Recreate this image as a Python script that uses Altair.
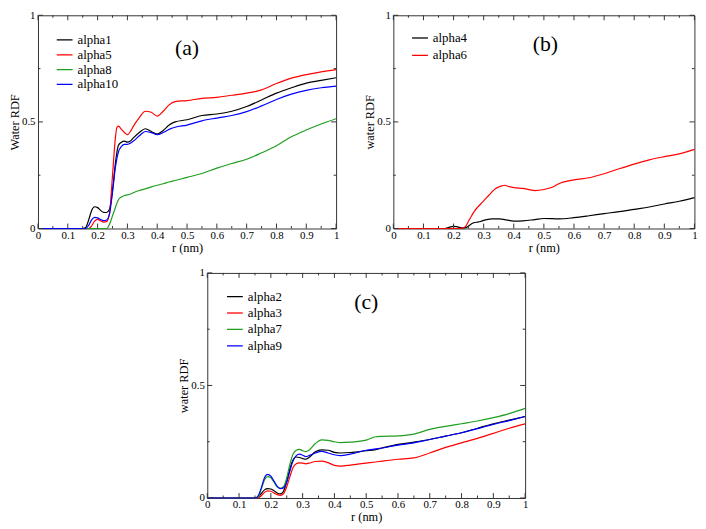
import altair as alt
import pandas as pd

# ---------------- data ----------------
# Panel (a)
r_a = [0.0, 0.15, 0.16, 0.17, 0.18, 0.19, 0.20, 0.21, 0.22, 0.23, 0.24, 0.25, 0.26, 0.265,
       0.27, 0.28, 0.29, 0.30, 0.31, 0.32, 0.34, 0.36, 0.38, 0.40, 0.42, 0.44, 0.46, 0.50,
       0.55, 0.60, 0.65, 0.70, 0.75, 0.80, 0.85, 0.90, 0.95, 1.0]
a_alpha1 = [0, 0, 0.005, 0.04, 0.085, 0.102, 0.098, 0.085, 0.076, 0.075, 0.09, 0.18, 0.31, 0.36,
            0.39, 0.405, 0.41, 0.405, 0.41, 0.425, 0.45, 0.468, 0.455, 0.443, 0.46, 0.485, 0.50, 0.51,
            0.53, 0.537, 0.55, 0.572, 0.603, 0.635, 0.66, 0.682, 0.695, 0.707]
a_alpha5 = [0, 0, 0, 0, 0.012, 0.035, 0.043, 0.036, 0.03, 0.032, 0.07, 0.25, 0.43, 0.475,
            0.48, 0.465, 0.45, 0.44, 0.455, 0.48, 0.52, 0.55, 0.545, 0.527, 0.55, 0.58, 0.595, 0.60,
            0.61, 0.615, 0.625, 0.635, 0.65, 0.68, 0.705, 0.722, 0.735, 0.745]
a_alpha8 = [0, 0, 0, 0, 0, 0, 0, 0, 0, 0, 0.02, 0.06, 0.10, 0.12,
            0.135, 0.148, 0.155, 0.158, 0.162, 0.168, 0.178, 0.186, 0.195, 0.203, 0.21, 0.218, 0.225, 0.24,
            0.258, 0.283, 0.305, 0.325, 0.355, 0.388, 0.43, 0.462, 0.49, 0.515]
a_alpha10 = [0, 0, 0, 0.015, 0.04, 0.052, 0.05, 0.042, 0.037, 0.04, 0.07, 0.17, 0.29, 0.33,
             0.36, 0.385, 0.395, 0.395, 0.40, 0.41, 0.435, 0.455, 0.45, 0.44, 0.45, 0.465, 0.475, 0.485,
             0.505, 0.518, 0.53, 0.548, 0.575, 0.605, 0.63, 0.648, 0.66, 0.668]

# Panel (b)
r_b = [0.0, 0.17, 0.18, 0.19, 0.20, 0.21, 0.22, 0.23, 0.24, 0.25, 0.26, 0.27, 0.28, 0.29,
       0.30, 0.31, 0.32, 0.33, 0.34, 0.35, 0.36, 0.37, 0.38, 0.40, 0.43, 0.47, 0.50, 0.53,
       0.55, 0.60, 0.65, 0.70, 0.75, 0.80, 0.85, 0.90, 0.95, 1.0]
b_alpha4 = [0, 0, 0.003, 0.008, 0.01, 0.009, 0.005, 0.002, 0.004, 0.012, 0.022, 0.028, 0.03, 0.033,
            0.038, 0.042, 0.044, 0.045, 0.045, 0.045, 0.044, 0.042, 0.039, 0.035, 0.036, 0.042, 0.047, 0.046,
            0.045, 0.051, 0.06, 0.07, 0.079, 0.09, 0.101, 0.115, 0.128, 0.145]
b_alpha6 = [0, 0, 0, 0, 0, 0, 0, 0.002, 0.01, 0.035, 0.06, 0.083, 0.10, 0.115,
            0.13, 0.145, 0.16, 0.175, 0.188, 0.195, 0.20, 0.203, 0.198, 0.192, 0.188, 0.178, 0.183, 0.195,
            0.21, 0.228, 0.238, 0.257, 0.28, 0.302, 0.322, 0.337, 0.35, 0.371]

# Panel (c)
r_c = [0.0, 0.15, 0.16, 0.17, 0.18, 0.19, 0.20, 0.21, 0.22, 0.23, 0.24, 0.25, 0.26, 0.27,
       0.28, 0.29, 0.30, 0.31, 0.32, 0.34, 0.36, 0.38, 0.40, 0.42, 0.45, 0.50, 0.53, 0.55,
       0.60, 0.65, 0.70, 0.75, 0.80, 0.85, 0.90, 0.95, 1.0]
c_alpha2 = [0, 0, 0.003, 0.02, 0.036, 0.042, 0.04, 0.032, 0.022, 0.018, 0.03, 0.075, 0.13, 0.17,
            0.182, 0.18, 0.175, 0.172, 0.18, 0.205, 0.214, 0.212, 0.203, 0.20, 0.202, 0.21, 0.215, 0.222,
            0.238, 0.248, 0.26, 0.275, 0.29, 0.31, 0.33, 0.346, 0.362]
c_alpha3 = [0, 0, 0, 0.01, 0.025, 0.032, 0.03, 0.022, 0.015, 0.012, 0.02, 0.05, 0.095, 0.135,
            0.152, 0.156, 0.155, 0.152, 0.155, 0.162, 0.164, 0.157, 0.145, 0.142, 0.146, 0.155, 0.16, 0.164,
            0.172, 0.178, 0.20, 0.225, 0.245, 0.265, 0.287, 0.31, 0.329]
c_alpha7 = [0, 0, 0.005, 0.04, 0.08, 0.095, 0.09, 0.07, 0.05, 0.043, 0.05, 0.09, 0.15, 0.195,
            0.212, 0.216, 0.21, 0.206, 0.212, 0.242, 0.258, 0.256, 0.25, 0.246, 0.248, 0.257, 0.272, 0.274,
            0.276, 0.284, 0.305, 0.318, 0.33, 0.342, 0.357, 0.375, 0.398]
c_alpha9 = [0, 0, 0.01, 0.045, 0.09, 0.105, 0.097, 0.075, 0.052, 0.042, 0.045, 0.07, 0.12, 0.165,
            0.188, 0.195, 0.19, 0.184, 0.188, 0.20, 0.207, 0.20, 0.192, 0.188, 0.195, 0.212, 0.218, 0.222,
            0.235, 0.245, 0.26, 0.275, 0.29, 0.308, 0.327, 0.344, 0.362]

# axis tick values
x_major = [0, 0.1, 0.2, 0.3, 0.4, 0.5, 0.6, 0.7, 0.8, 0.9, 1]
x_minor = [0.05, 0.15, 0.25, 0.35, 0.45, 0.55, 0.65, 0.75, 0.85, 0.95]
y_major = [0, 0.5, 1]
y_minor = [0.25, 0.75]

# panel label positions (data coordinates)
label_a = ["(a)", 0.5, 0.847]
label_b = ["(b)", 0.505, 0.866]
label_c = ["(c)", 0.5, 0.869]

BLACK, RED, GREEN, BLUE = "#000000", "#ff0000", "#1f9e1f", "#0000ff"
FONT = "Liberation Serif"
AX = "#333333"


def panel(r, series, names, colors, W, H, ytitle, label, leg_x, leg_y, row_pad):
    rows = []
    for name, vals in zip(names, series):
        for rv, gv in zip(r, vals):
            rows.append({"r": rv, "g": gv, "series": name})
    df = pd.DataFrame(rows)
    xs = alt.Scale(domain=[0, 1], nice=False, zero=False)
    ys = alt.Scale(domain=[0, 1], nice=False, zero=False)
    xax = alt.Axis(values=x_major, format="~g", title="r (nm)", labelFlush=False)
    yax = alt.Axis(values=y_major, format="~g", title=ytitle, labelFlush=False)

    def X(f):
        return alt.X(f, scale=xs, axis=xax)

    def Y(f):
        return alt.Y(f, scale=ys, axis=yax)

    lines = alt.Chart(df).mark_line(strokeWidth=1.2, interpolate="monotone").encode(
        x=X("r:Q"), y=Y("g:Q"),
        color=alt.Color("series:N", scale=alt.Scale(domain=names, range=colors),
                        legend=alt.Legend(title=None, orient="none", legendX=leg_x, legendY=leg_y,
                                          symbolType="stroke", symbolSize=256, symbolStrokeWidth=1.3,
                                          labelFont=FONT, labelFontSize=13, labelColor="black",
                                          rowPadding=row_pad, clipHeight=12, padding=0,
                                          labelOffset=4)),
    )
    layers = [lines]
    for vals, L in ((x_major, 5), (x_minor, 2.5)):
        base = alt.Chart(pd.DataFrame({"r": vals})).mark_rule(color=AX, strokeWidth=1)
        layers.append(base.encode(x=X("r:Q"), y=alt.value(H), y2=alt.value(H - L)))
        layers.append(base.encode(x=X("r:Q"), y=alt.value(0), y2=alt.value(L)))
    for vals, L in ((y_major, 5), (y_minor, 2.5)):
        base = alt.Chart(pd.DataFrame({"g": vals})).mark_rule(color=AX, strokeWidth=1)
        layers.append(base.encode(y=Y("g:Q"), x=alt.value(0), x2=alt.value(L)))
        layers.append(base.encode(y=Y("g:Q"), x=alt.value(W), x2=alt.value(W - L)))
    txt = alt.Chart(pd.DataFrame({"t": [label[0]], "r": [label[1]], "g": [label[2]]})).mark_text(
        font=FONT, fontSize=22, align="center", baseline="middle", color="black"
    ).encode(x=X("r:Q"), y=Y("g:Q"), text="t:N")
    layers.append(txt)
    return alt.layer(*layers).properties(width=W, height=H)


A = panel(r_a, [a_alpha1, a_alpha5, a_alpha8, a_alpha10], ["alpha1", "alpha5", "alpha8", "alpha10"],
          [BLACK, RED, GREEN, BLUE], 302, 216, "Water RDF", label_a, 18, 19, 2)
B = panel(r_b, [b_alpha4, b_alpha6], ["alpha4", "alpha6"], [BLACK, RED],
          305, 216, "water RDF", label_b, 18, 17, 4.7)
C = panel(r_c, [c_alpha2, c_alpha3, c_alpha7, c_alpha9], ["alpha2", "alpha3", "alpha7", "alpha9"],
          [BLACK, RED, GREEN, BLUE], 322, 228, "water RDF", label_c, 19, 18, 3.6)

top = alt.hconcat(A, B, spacing=23) \
    .resolve_scale(color="independent").resolve_legend(color="independent")

chart = alt.vconcat(top, C, spacing=12, center=True) \
    .resolve_scale(color="independent").resolve_legend(color="independent") \
    .properties(padding={"top": -3, "left": 0, "right": 0, "bottom": 0}, background="white") \
    .configure_view(stroke=AX, strokeWidth=1) \
    .configure_axis(labelFont=FONT, labelFontSize=11, labelColor="black", titleFont=FONT,
                    titleFontSize=12.5, titleFontWeight="normal", titleColor="black",
                    ticks=False, tickSize=0, domain=False, grid=False) \
    .configure_axisX(labelPadding=1, titlePadding=1) \
    .configure_axisY(labelPadding=3, titlePadding=0)

chart.save("out.html", embed_options={"renderer": "svg", "actions": False})
